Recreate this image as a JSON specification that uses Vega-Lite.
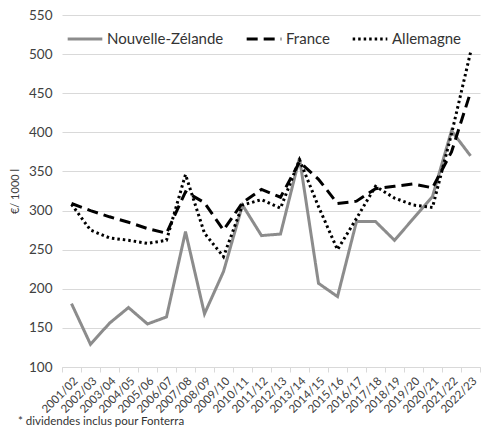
{
  "$schema": "https://vega.github.io/schema/vega-lite/v6.json",
  "width": 418,
  "height": 352,
  "autosize": {"type": "none"},
  "padding": {"left": 62, "top": 15, "right": 3, "bottom": 63},
  "background": "white",
  "config": {
    "font": "Lato",
    "view": {"stroke": null}
  },
  "title": {
    "text": "* dividendes inclus pour Fonterra",
    "orient": "bottom",
    "anchor": "start",
    "frame": "group",
    "dx": -44,
    "offset": 1,
    "fontSize": 11.5,
    "fontWeight": "normal",
    "color": "#333333",
    "font": "Lato"
  },
  "data": {
    "values": [
      {"periode": "2001/02", "pays": "Nouvelle-Zélande", "valeur": 181},
      {"periode": "2002/03", "pays": "Nouvelle-Zélande", "valeur": 129},
      {"periode": "2003/04", "pays": "Nouvelle-Zélande", "valeur": 156},
      {"periode": "2004/05", "pays": "Nouvelle-Zélande", "valeur": 176},
      {"periode": "2005/06", "pays": "Nouvelle-Zélande", "valeur": 155},
      {"periode": "2006/07", "pays": "Nouvelle-Zélande", "valeur": 164},
      {"periode": "2007/08", "pays": "Nouvelle-Zélande", "valeur": 273},
      {"periode": "2008/09", "pays": "Nouvelle-Zélande", "valeur": 168},
      {"periode": "2009/10", "pays": "Nouvelle-Zélande", "valeur": 222},
      {"periode": "2010/11", "pays": "Nouvelle-Zélande", "valeur": 307},
      {"periode": "2011/12", "pays": "Nouvelle-Zélande", "valeur": 268},
      {"periode": "2012/13", "pays": "Nouvelle-Zélande", "valeur": 270},
      {"periode": "2013/14", "pays": "Nouvelle-Zélande", "valeur": 367},
      {"periode": "2014/15", "pays": "Nouvelle-Zélande", "valeur": 207},
      {"periode": "2015/16", "pays": "Nouvelle-Zélande", "valeur": 190},
      {"periode": "2016/17", "pays": "Nouvelle-Zélande", "valeur": 286},
      {"periode": "2017/18", "pays": "Nouvelle-Zélande", "valeur": 286},
      {"periode": "2018/19", "pays": "Nouvelle-Zélande", "valeur": 262},
      {"periode": "2019/20", "pays": "Nouvelle-Zélande", "valeur": 290},
      {"periode": "2020/21", "pays": "Nouvelle-Zélande", "valeur": 318},
      {"periode": "2021/22", "pays": "Nouvelle-Zélande", "valeur": 402},
      {"periode": "2022/23", "pays": "Nouvelle-Zélande", "valeur": 370},
      {"periode": "2001/02", "pays": "France", "valeur": 309},
      {"periode": "2002/03", "pays": "France", "valeur": 300},
      {"periode": "2003/04", "pays": "France", "valeur": 292},
      {"periode": "2004/05", "pays": "France", "valeur": 285},
      {"periode": "2005/06", "pays": "France", "valeur": 277},
      {"periode": "2006/07", "pays": "France", "valeur": 271},
      {"periode": "2007/08", "pays": "France", "valeur": 324},
      {"periode": "2008/09", "pays": "France", "valeur": 310},
      {"periode": "2009/10", "pays": "France", "valeur": 275},
      {"periode": "2010/11", "pays": "France", "valeur": 310},
      {"periode": "2011/12", "pays": "France", "valeur": 327},
      {"periode": "2012/13", "pays": "France", "valeur": 317},
      {"periode": "2013/14", "pays": "France", "valeur": 362},
      {"periode": "2014/15", "pays": "France", "valeur": 340},
      {"periode": "2015/16", "pays": "France", "valeur": 309},
      {"periode": "2016/17", "pays": "France", "valeur": 312},
      {"periode": "2017/18", "pays": "France", "valeur": 328},
      {"periode": "2018/19", "pays": "France", "valeur": 331},
      {"periode": "2019/20", "pays": "France", "valeur": 334},
      {"periode": "2020/21", "pays": "France", "valeur": 329},
      {"periode": "2021/22", "pays": "France", "valeur": 375},
      {"periode": "2022/23", "pays": "France", "valeur": 451},
      {"periode": "2001/02", "pays": "Allemagne", "valeur": 308},
      {"periode": "2002/03", "pays": "Allemagne", "valeur": 275},
      {"periode": "2003/04", "pays": "Allemagne", "valeur": 265},
      {"periode": "2004/05", "pays": "Allemagne", "valeur": 262},
      {"periode": "2005/06", "pays": "Allemagne", "valeur": 258},
      {"periode": "2006/07", "pays": "Allemagne", "valeur": 262},
      {"periode": "2007/08", "pays": "Allemagne", "valeur": 346},
      {"periode": "2008/09", "pays": "Allemagne", "valeur": 271},
      {"periode": "2009/10", "pays": "Allemagne", "valeur": 241},
      {"periode": "2010/11", "pays": "Allemagne", "valeur": 307},
      {"periode": "2011/12", "pays": "Allemagne", "valeur": 314},
      {"periode": "2012/13", "pays": "Allemagne", "valeur": 303},
      {"periode": "2013/14", "pays": "Allemagne", "valeur": 365},
      {"periode": "2014/15", "pays": "Allemagne", "valeur": 305},
      {"periode": "2015/16", "pays": "Allemagne", "valeur": 250},
      {"periode": "2016/17", "pays": "Allemagne", "valeur": 290},
      {"periode": "2017/18", "pays": "Allemagne", "valeur": 331},
      {"periode": "2018/19", "pays": "Allemagne", "valeur": 316},
      {"periode": "2019/20", "pays": "Allemagne", "valeur": 307},
      {"periode": "2020/21", "pays": "Allemagne", "valeur": 304},
      {"periode": "2021/22", "pays": "Allemagne", "valeur": 398},
      {"periode": "2022/23", "pays": "Allemagne", "valeur": 502}
    ]
  },
  "mark": {"type": "line", "strokeWidth": 3, "strokeCap": "butt", "strokeJoin": "miter", "clip": false},
  "encoding": {
    "x": {
      "field": "periode",
      "type": "ordinal",
      "sort": null,
      "scale": {"paddingInner": 0, "paddingOuter": 0},
      "axis": {
        "title": null,
        "labelAngle": -45,
        "labelFontSize": 11.5,
        "labelColor": "#404040",
        "labelPadding": 3,
        "tickBand": "extent",
        "tickColor": "#d9d9d9",
        "tickSize": 5,
        "domainColor": "#d9d9d9",
        "grid": false
      }
    },
    "y": {
      "field": "valeur",
      "type": "quantitative",
      "scale": {"domain": [100, 550], "nice": false, "zero": false},
      "axis": {
        "title": "€/ 1000 l",
        "titleFontSize": 11,
        "titleFontWeight": "normal",
        "titleColor": "#404040",
        "titlePadding": 8,
        "values": [100, 150, 200, 250, 300, 350, 400, 450, 500, 550],
        "labelFontSize": 13.5,
        "labelColor": "#404040",
        "labelPadding": 10,
        "ticks": false,
        "domain": false,
        "gridColor": "#d9d9d9",
        "gridWidth": 1.2
      }
    },
    "color": {
      "field": "pays",
      "type": "nominal",
      "scale": {
        "domain": ["Nouvelle-Zélande", "France", "Allemagne"],
        "range": ["#8c8c8c", "#000000", "#000000"]
      },
      "legend": {
        "title": null,
        "orient": "none",
        "direction": "horizontal",
        "legendX": 4,
        "legendY": 5,
        "symbolType": "stroke",
        "symbolSize": 1200,
        "symbolStrokeWidth": 3,
        "labelFontSize": 15,
        "labelColor": "#333333",
        "labelOffset": 3,
        "columnPadding": 16,
        "symbolDash": null
      }
    },
    "strokeDash": {
      "field": "pays",
      "type": "nominal",
      "scale": {
        "domain": ["Nouvelle-Zélande", "France", "Allemagne"],
        "range": [[1, 0], [11, 6], [2.5, 3]]
      },
      "legend": null
    }
  }
}
